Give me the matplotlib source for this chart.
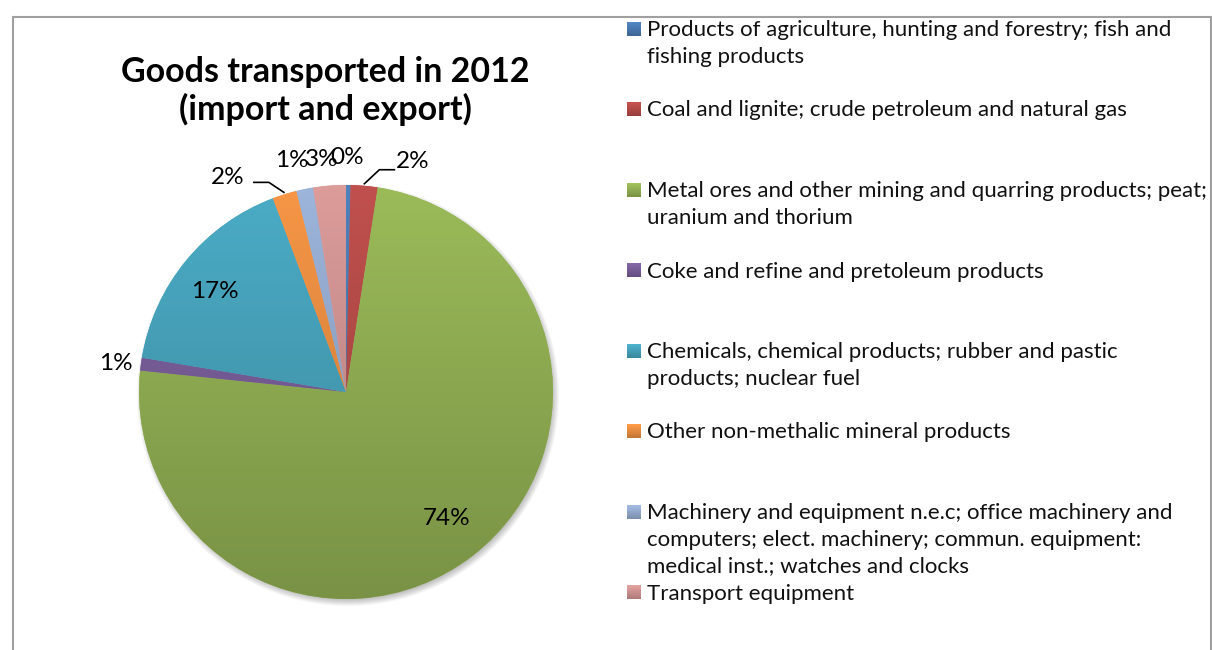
import numpy as np
import matplotlib
matplotlib.use('Agg')
import matplotlib.pyplot as plt
from matplotlib.colors import to_rgb
from matplotlib.patches import Rectangle, Circle

plt.rcParams['font.family'] = ['Lato', 'DejaVu Sans']

title = 'Goods transported in 2012\n(import and export)'
categories = [
    'Products of agriculture, hunting and forestry; fish and\nfishing products',
    'Coal and lignite; crude petroleum and natural gas',
    'Metal ores and other mining and quarring products; peat;\nuranium and thorium',
    'Coke and refine and pretoleum products',
    'Chemicals, chemical products; rubber and pastic\nproducts; nuclear fuel',
    'Other non-methalic mineral products',
    'Machinery and equipment n.e.c; office machinery and\ncomputers; elect. machinery; commun. equipment:\nmedical inst.; watches and clocks',
    'Transport equipment',
]
shares = [0.35, 2.1, 74.2, 1.0, 16.6, 1.9, 1.3, 2.55]
colors = ['#4F81BD', '#C0504D', '#9BBB59', '#8064A2',
          '#4BACC6', '#F79646', '#9DB5DB', '#DC9C9A']

# label placement: (radius factor, angle nudge in degrees)
label_place = [(1.135, 0.4), (1.16, -11.0), (0.78, 1.0), (1.12, 0.7),
               (0.80, 2.0), (1.185, 11.5), (1.15, 1.6), (1.127, 1.3)]
leaders = {1: ((15, 14), (15, 0)), 5: ((-15, 10), (-15, 0))}

W, H = 1212, 650
cx, cy, R = 346, 258, 207

fig = plt.figure(figsize=(W / 100, H / 100), dpi=100)
ax = fig.add_axes([0, 0, 1, 1])


def gradient(c, top=1.0, bottom=0.78, n=256):
    rgb = np.array(to_rgb(c))
    t = np.linspace(0, 1, n)[:, None]
    f = top + (bottom - top) * t
    return np.clip(rgb[None, :] * f, 0, 1)[:, None, :]


# soft drop shadow under the pie
for k in range(8):
    ax.add_patch(Circle((cx + 2, cy - 3), R + 4 - k, color='k',
                        alpha=0.035, lw=0, zorder=1))

wedges, _ = ax.pie(shares, colors=colors, startangle=90, counterclock=False,
                   center=(cx, cy), radius=R, frame=True,
                   wedgeprops=dict(linewidth=0))

for w, c in zip(wedges, colors):
    w.set_zorder(2)
    im = ax.imshow(gradient(c), extent=(cx - R, cx + R, cy - R, cy + R),
                   origin='upper', aspect='auto', zorder=3,
                   interpolation='bilinear')
    im.set_clip_path(w)

# percentage labels
for i, (w, v) in enumerate(zip(wedges, shares)):
    mid = (w.theta1 + w.theta2) / 2
    rf, nudge = label_place[i]
    a = np.deg2rad(mid + nudge)
    x, y = cx + rf * R * np.cos(a), cy + rf * R * np.sin(a)
    ax.text(x, y, f'{v:.0f}%', ha='center', va='center', fontsize=17.5,
            color='black', zorder=5)
    if i in leaders:
        am = np.deg2rad(mid)
        x0, y0 = cx + 1.01 * R * np.cos(am), cy + 1.01 * R * np.sin(am)
        (dx1, dy1), (dx2, dy2) = leaders[i]
        ax.plot([x0, x0 + dx1, x0 + dx1 + dx2], [y0, y0 + dy1, y0 + dy1],
                color='black', lw=1.2, zorder=5)

ax.text(325, H - 91, title, ha='center', va='center', fontsize=24.5,
        fontweight='bold', linespacing=1.2, zorder=5)

# legend on the right
sw, step, y_first = 14, 80.5, H - 29
for i, (lab, c) in enumerate(zip(categories, colors)):
    y = y_first - i * step
    ax.imshow(gradient(c, 1.05, 0.78), extent=(627, 627 + sw, y - sw / 2, y + sw / 2),
              origin='upper', aspect='auto', zorder=4)
    ax.text(647, y + 9, lab, ha='left', va='top', fontsize=16,
            linespacing=1.42, color='#111111', zorder=5)

# chart frame
ax.add_patch(Rectangle((13, -10), 1198, 643, fill=False, ec='#a0a0a0', lw=1.5,
                       zorder=6))

ax.set_xlim(0, W)
ax.set_ylim(0, H)
ax.set_aspect('auto')
ax.axis('off')

fig.savefig('out.png', dpi=100)
